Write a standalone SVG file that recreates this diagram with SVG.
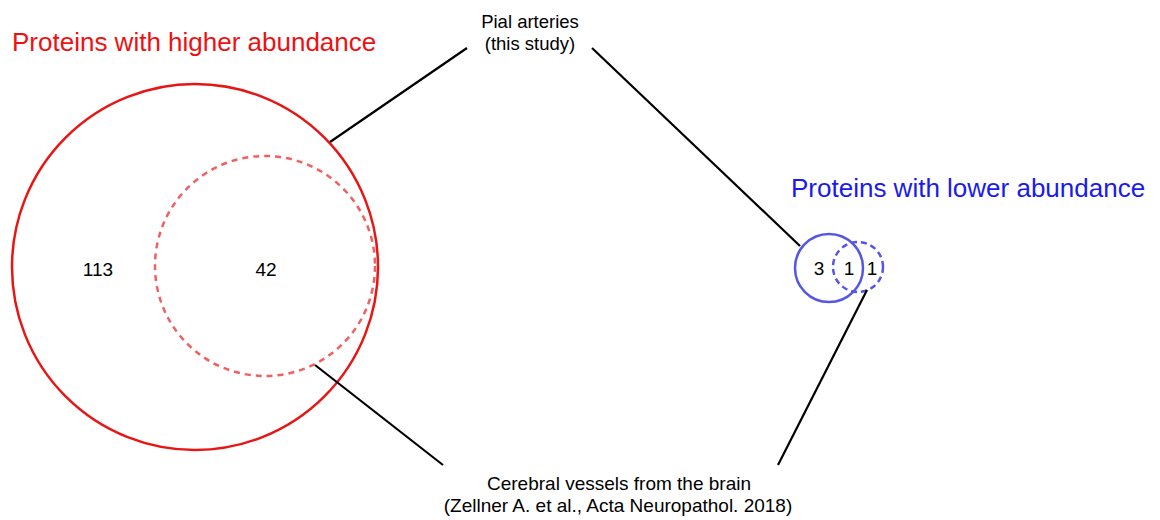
<svg xmlns="http://www.w3.org/2000/svg" width="1160" height="520" viewBox="0 0 1160 520">
<style>
text{font-family:"Liberation Sans",Arial,sans-serif;fill:#000}
.lbl{font-size:19px;text-anchor:middle}
.pial{font-size:18.5px;text-anchor:middle}
.num{font-size:19px;text-anchor:middle}
.title{font-size:26px}
.conn{stroke:#000;stroke-width:2.2;fill:none}
</style>
<rect width="1160" height="520" fill="#fff"/>
<g id="higher">
<text class="title" x="12" y="51" style="fill:#ee1111">Proteins with higher abundance</text>
<circle cx="195" cy="267" r="183" fill="none" stroke="#e81515" stroke-width="2.5"/>
<circle cx="265" cy="266" r="110" fill="none" stroke="#f06060" stroke-width="2.5" stroke-dasharray="6,5"/>
<text class="num" x="98" y="276">113</text>
<text class="num" x="266" y="276">42</text>
</g>
<g id="lower">
<text class="title" x="791" y="197" style="fill:#1a1aee">Proteins with lower abundance</text>
<circle cx="829" cy="268" r="34" fill="none" stroke="#5555e6" stroke-width="2.5"/>
<circle cx="858" cy="267" r="25" fill="none" stroke="#5555e6" stroke-width="2.5" stroke-dasharray="6,4"/>
<text class="num" x="819" y="275">3</text>
<text class="num" x="849" y="275">1</text>
<text class="num" x="872" y="275">1</text>
</g>
<g id="pial">
<text class="pial" x="530" y="28">Pial arteries</text>
<text class="pial" x="530" y="50">(this study)</text>
</g>
<g id="cerebral">
<text class="lbl" x="619" y="490">Cerebral vessels from the brain</text>
<text class="lbl" x="618" y="512">(Zellner A. et al., Acta Neuropathol. 2018)</text>
</g>
<g id="connectors">
<line class="conn" x1="330" y1="142" x2="467" y2="48"/>
<line class="conn" x1="592" y1="48" x2="800" y2="246"/>
<line class="conn" x1="315" y1="365" x2="443" y2="465"/>
<line class="conn" x1="867" y1="290" x2="778" y2="465"/>
</g>
</svg>
